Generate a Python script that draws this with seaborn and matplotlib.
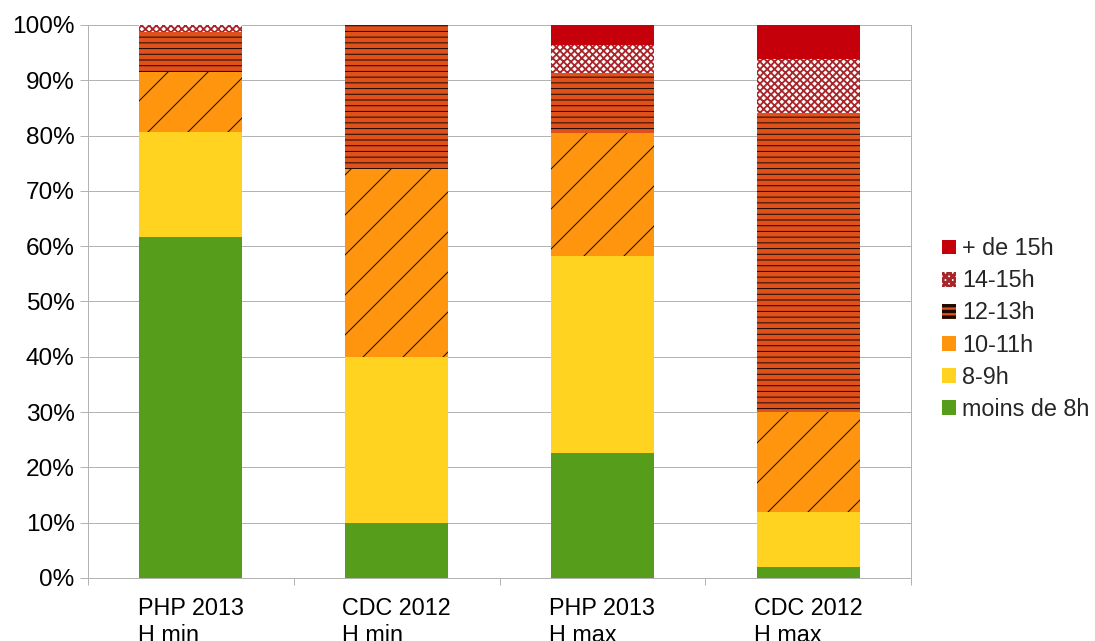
import matplotlib
matplotlib.use("Agg")
import matplotlib.pyplot as plt
from matplotlib.patches import Patch
import numpy as np
import pandas as pd
import seaborn as sns

# ------------------------------------------------------------------
# Data (percent of each column, bottom layer first)
# ------------------------------------------------------------------
categories = ["PHP 2013\nH min", "CDC 2012\nH min", "PHP 2013\nH max", "CDC 2012\nH max"]
layers = ["moins de 8h", "8-9h", "10-11h", "12-13h", "14-15h", "+ de 15h"]

moins_8h = [61.7, 9.9, 22.6, 2.0]
h8_9 = [18.9, 30.1, 35.6, 9.9]
h10_11 = [10.9, 34.0, 22.3, 18.1]
h12_13 = [7.2, 26.0, 10.8, 54.1]
h14_15 = [1.3, 0.0, 5.1, 9.8]
plus_15h = [0.0, 0.0, 3.6, 6.1]

values = [moins_8h, h8_9, h10_11, h12_13, h14_15, plus_15h]

# style per layer: face colour, hatch, hatch colour, hatch width, legend hatch
styles = {
    "moins de 8h": ("#579d1c", "", "#579d1c", 0.3, ""),
    "8-9h": ("#ffd320", "", "#ffd320", 0.3, ""),
    "10-11h": ("#ff950e", "//", "#111111", 0.3, ""),
    "12-13h": ("#e0501a", "-------", "#1a0a00", 0.3, "-------"),
    "14-15h": ("#ffffff", "x" * 11, "#a8262a", 0.55, "x" * 11),
    "+ de 15h": ("#c5000b", "", "#c5000b", 0.3, ""),
}

FS = 7.0

# ------------------------------------------------------------------
# Figure
# ------------------------------------------------------------------
sns.set_style("white")
plt.rcParams["font.family"] = ["Liberation Sans", "DejaVu Sans"]
plt.rcParams["font.size"] = FS

DPI = 240
fig = plt.figure(figsize=(1095 / DPI, 641 / DPI), dpi=DPI)
ax = fig.add_axes([88 / 1095, 1 - 578 / 641, (911 - 88) / 1095, (578 - 25) / 641])

# cumulative stacks, drawn from the top layer down so lower layers cover them
cum = np.cumsum(np.array(values), axis=0)
for i in range(len(layers) - 1, -1, -1):
    name = layers[i]
    face, hatch, hcol, hlw, _ = styles[name]
    df = pd.DataFrame({"cat": categories, "val": cum[i]})
    with plt.rc_context({"hatch.linewidth": hlw}):
        sns.barplot(data=df, x="cat", y="val", color=face, saturation=1,
                    width=0.5, hatch=hatch, edgecolor=hcol, linewidth=0, ax=ax)

# axes, grid and ticks
ax.set_xlim(-0.5, 3.5)
ax.set_ylim(0, 100)
ax.set_xlabel("")
ax.set_ylabel("")
ax.set_yticks(np.arange(0, 101, 10))
ax.set_yticklabels([f"{v}%" for v in range(0, 101, 10)])
ax.set_axisbelow(True)
ax.yaxis.grid(True, color="#b3b3b3", linewidth=0.3)
ax.tick_params(axis="y", length=2.4, width=0.3, color="#b3b3b3", pad=1.6,
               labelsize=FS + 0.3, labelcolor="black", left=True)
ax.set_xticks(range(len(categories)))
ax.set_xticklabels(categories, multialignment="left", linespacing=1.22)
ax.tick_params(axis="x", which="major", length=0, pad=5.7, labelsize=FS, labelcolor="black")
ax.set_xticks(np.arange(-0.5, 4, 1), minor=True)
ax.tick_params(axis="x", which="minor", length=2.1, width=0.3, color="#b3b3b3", bottom=True)

for side in ["left", "right", "bottom"]:
    ax.spines[side].set_visible(True)
    ax.spines[side].set_color("#b3b3b3")
    ax.spines[side].set_linewidth(0.3)
ax.spines["top"].set_visible(False)

# legend, top layer first
handles = []
for name in layers[::-1]:
    face, hatch, hcol, hlw, lhatch = styles[name]
    handles.append(Patch(facecolor=face, hatch=lhatch, edgecolor=hcol, linewidth=0, label=name))
fig.legend(handles=handles, loc="center left", bbox_to_anchor=(942 / 1095, 1 - 329 / 641),
           frameon=False, fontsize=FS, handlelength=0.6, handleheight=0.6,
           handletextpad=0.26, labelspacing=0.39, borderpad=0, borderaxespad=0)

fig.savefig("out.png", dpi=DPI)
